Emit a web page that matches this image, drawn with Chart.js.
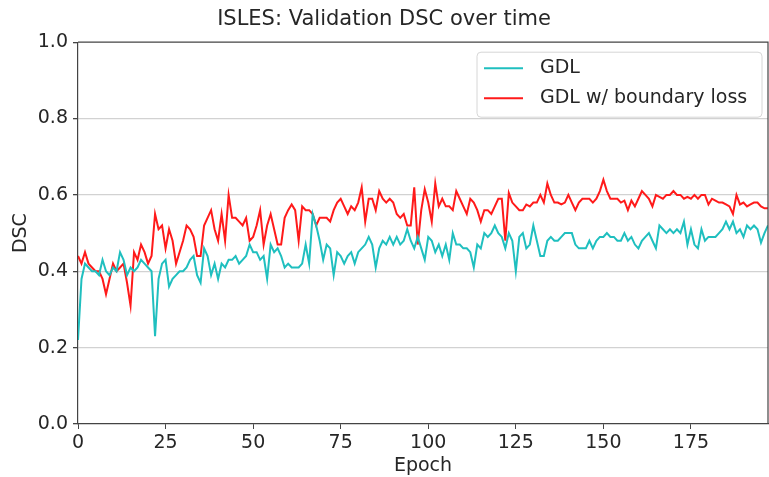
<!DOCTYPE html>
<html>
<head>
<meta charset="utf-8">
<script src="https://cdn.jsdelivr.net/npm/chart.js@4.4.1/dist/chart.umd.min.js"></script>
<style>
  html, body { margin: 0; padding: 0; background: #fff; }
</style>
</head>
<body>
<canvas id="dscChart" width="769" height="477"></canvas>
<script>
// validation DSC per epoch
const gdl = [
  0.22, 0.38, 0.42, 0.41, 0.40, 0.40, 0.39, 0.43, 0.40, 0.39,
  0.41, 0.40, 0.45, 0.43, 0.39, 0.41, 0.40, 0.41, 0.43, 0.42,
  0.41, 0.40, 0.23, 0.38, 0.42, 0.43, 0.36, 0.38, 0.39, 0.40,
  0.40, 0.41, 0.43, 0.44, 0.39, 0.37, 0.46, 0.44, 0.39, 0.42,
  0.38, 0.42, 0.41, 0.43, 0.43, 0.44, 0.42, 0.43, 0.44, 0.47,
  0.45, 0.45, 0.43, 0.44, 0.38, 0.47, 0.45, 0.46, 0.44, 0.41,
  0.42, 0.41, 0.41, 0.41, 0.42, 0.47, 0.42, 0.55, 0.52, 0.48,
  0.43, 0.47, 0.46, 0.39, 0.45, 0.44, 0.42, 0.44, 0.45, 0.42,
  0.45, 0.46, 0.47, 0.49, 0.47, 0.41, 0.46, 0.48, 0.47, 0.49,
  0.47, 0.49, 0.47, 0.48, 0.51, 0.48, 0.46, 0.49, 0.46, 0.43,
  0.49, 0.48, 0.45, 0.47, 0.44, 0.47, 0.43, 0.50, 0.47, 0.47,
  0.46, 0.46, 0.45, 0.41, 0.47, 0.46, 0.50, 0.49, 0.50, 0.52,
  0.50, 0.49, 0.46, 0.50, 0.48, 0.40, 0.49, 0.50, 0.46, 0.47,
  0.52, 0.48, 0.44, 0.44, 0.48, 0.49, 0.48, 0.48, 0.49, 0.50,
  0.50, 0.50, 0.47, 0.46, 0.46, 0.46, 0.48, 0.46, 0.48, 0.49,
  0.49, 0.50, 0.49, 0.49, 0.48, 0.48, 0.50, 0.48, 0.49, 0.47,
  0.46, 0.48, 0.49, 0.50, 0.48, 0.46, 0.52, 0.51, 0.50, 0.51,
  0.50, 0.51, 0.50, 0.53, 0.47, 0.51, 0.47, 0.46, 0.51, 0.48,
  0.49, 0.49, 0.49, 0.50, 0.51, 0.53, 0.51, 0.53, 0.50, 0.51,
  0.49, 0.52, 0.51, 0.52, 0.51, 0.475, 0.50, 0.52
];
const gdlBoundary = [
  0.44, 0.42, 0.45, 0.42, 0.41, 0.40, 0.40, 0.38, 0.34, 0.38,
  0.42, 0.40, 0.41, 0.42, 0.37, 0.31, 0.45, 0.43, 0.47, 0.45,
  0.42, 0.44, 0.55, 0.51, 0.52, 0.46, 0.51, 0.48, 0.42, 0.45,
  0.48, 0.52, 0.51, 0.49, 0.44, 0.44, 0.52, 0.54, 0.56, 0.51,
  0.48, 0.55, 0.48, 0.60, 0.54, 0.54, 0.53, 0.52, 0.54, 0.48,
  0.49, 0.52, 0.56, 0.47, 0.52, 0.55, 0.51, 0.47, 0.47, 0.54,
  0.56, 0.575, 0.56, 0.48, 0.57, 0.56, 0.56, 0.55, 0.52, 0.54,
  0.54, 0.54, 0.53, 0.56, 0.58, 0.59, 0.57, 0.55, 0.57, 0.56,
  0.58, 0.62, 0.53, 0.59, 0.59, 0.56, 0.61, 0.59, 0.58, 0.59,
  0.58, 0.55, 0.54, 0.55, 0.52, 0.52, 0.62, 0.47, 0.56, 0.615,
  0.58, 0.53, 0.63, 0.57, 0.59, 0.57, 0.57, 0.56, 0.61, 0.59,
  0.57, 0.55, 0.59, 0.58, 0.56, 0.53, 0.56, 0.56, 0.55, 0.57,
  0.59, 0.59, 0.48, 0.605, 0.58, 0.57, 0.56, 0.56, 0.575, 0.57,
  0.58, 0.58, 0.60, 0.58, 0.63, 0.60, 0.58, 0.58, 0.575, 0.58,
  0.60, 0.58, 0.56, 0.58, 0.59, 0.59, 0.59, 0.58, 0.59, 0.61,
  0.64, 0.61, 0.59, 0.59, 0.59, 0.58, 0.585, 0.56, 0.585, 0.57,
  0.59, 0.61, 0.60, 0.59, 0.57, 0.60, 0.595, 0.59, 0.60, 0.60,
  0.61, 0.60, 0.60, 0.59, 0.595, 0.59, 0.60, 0.59, 0.60, 0.60,
  0.575, 0.59, 0.585, 0.58, 0.58, 0.575, 0.57, 0.55, 0.60, 0.575,
  0.58, 0.57, 0.575, 0.58, 0.58, 0.57, 0.565, 0.565
];
const epochs = gdl.map((_, i) => i);
const xTicks = [0, 25, 50, 75, 100, 125, 150, 175];
const yTicks = [0.0, 0.2, 0.4, 0.6, 0.8, 1.0];

const FONT = 'DejaVu Sans';
const TEXT = '#262626';

// matplotlib-style legend inside the axes + top/right spines
const legendBox = {
  id: 'legendBox',
  afterDraw(chart) {
    const { ctx, chartArea } = chart;
    ctx.save();
    ctx.strokeStyle = '#444';
    ctx.lineWidth = 1.2;
    ctx.beginPath();
    ctx.moveTo(chartArea.left, chartArea.top);
    ctx.lineTo(chartArea.right, chartArea.top);
    ctx.lineTo(chartArea.right, chartArea.bottom);
    ctx.stroke();

    const w = 285, h = 65;
    const x = chartArea.right - w - 6, y = chartArea.top + 10;
    ctx.fillStyle = 'rgba(255,255,255,0.85)';
    ctx.strokeStyle = '#d6d6d6';
    ctx.lineWidth = 1;
    ctx.beginPath();
    ctx.roundRect(x, y, w, h, 4);
    ctx.fill();
    ctx.stroke();

    ctx.font = '19px "' + FONT + '"';
    ctx.textBaseline = 'middle';
    chart.data.datasets.forEach((ds, i) => {
      const ly = y + 16 + i * 30;
      ctx.strokeStyle = ds.borderColor;
      ctx.lineWidth = 2;
      ctx.beginPath();
      ctx.moveTo(x + 7, ly);
      ctx.lineTo(x + 46, ly);
      ctx.stroke();
      ctx.fillStyle = TEXT;
      ctx.fillText(ds.label, x + 63, ly);
    });
    ctx.restore();
  }
};

const ctx = document.getElementById('dscChart');

new Chart(ctx, {
  type: 'line',
  data: {
    labels: epochs,
    datasets: [{
      label: 'GDL',
      data: gdl,
      borderColor: '#1fbfbf',
      borderWidth: 2,
      pointRadius: 0,
      tension: 0,
    }, {
      label: 'GDL w/ boundary loss',
      data: gdlBoundary,
      borderColor: '#ff1a1a',
      borderWidth: 2,
      pointRadius: 0,
      tension: 0,
    }]
  },
  options: {
    responsive: false,
    animation: false,
    devicePixelRatio: 1,
    layout: { padding: { left: 0, right: 1, top: 0, bottom: 0 } },
    plugins: {
      legend: { display: false },
      tooltip: { enabled: false },
      title: {
        display: true,
        text: 'ISLES: Validation DSC over time',
        color: TEXT,
        font: { family: FONT, size: 21, weight: 'normal' },
        padding: { top: 7, bottom: 10 }
      }
    },
    scales: {
      x: {
        type: 'linear',
        min: 0,
        max: 197,
        afterBuildTicks: (scale) => { scale.ticks = xTicks.map(v => ({ value: v })); },
        afterFit: (scale) => { scale.height = 53; },
        ticks: {
          color: TEXT,
          padding: 3,
          maxRotation: 0,
          font: { family: FONT, size: 19 },
          callback: (v) => v
        },
        grid: { drawOnChartArea: false, tickLength: 5, tickColor: '#444' },
        border: { color: '#444', width: 1.2 },
        title: {
          display: true,
          text: 'Epoch',
          color: TEXT,
          font: { family: FONT, size: 19 },
          padding: { top: 1, bottom: 0 }
        }
      },
      y: {
        min: 0,
        max: 1,
        afterBuildTicks: (scale) => { scale.ticks = yTicks.map(v => ({ value: v })); },
        afterFit: (scale) => { scale.width = 78; },
        ticks: {
          color: TEXT,
          padding: 5,
          font: { family: FONT, size: 19 },
          callback: (v) => Number(v).toFixed(1)
        },
        grid: {
          color: (c) => (c.tick && (c.tick.value === 0 || c.tick.value === 1)) ? 'rgba(0,0,0,0)' : '#d2d2d2',
          lineWidth: 1.3,
          tickLength: 5,
          tickColor: '#444'
        },
        border: { color: '#444', width: 1.2 },
        title: {
          display: true,
          text: 'DSC',
          color: TEXT,
          font: { family: FONT, size: 19 },
          padding: { top: 10, bottom: 0 }
        }
      }
    }
  },
  plugins: [legendBox]
});
</script>
</body>
</html>
